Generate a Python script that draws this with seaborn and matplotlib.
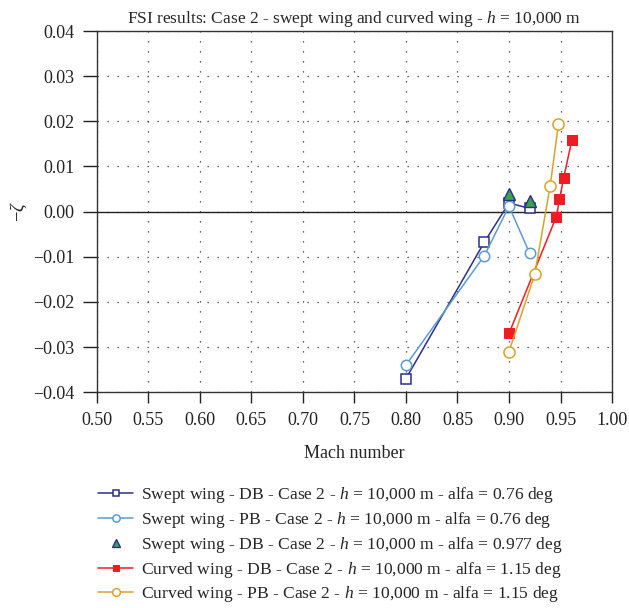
import numpy as np
import pandas as pd
import matplotlib
matplotlib.use("Agg")
import matplotlib.pyplot as plt
import seaborn as sns

# Mach number / -zeta values for each configuration
swept_db_mach = [0.80, 0.876, 0.90, 0.92]
swept_db_zeta = [-0.037, -0.0068, 0.0019, 0.0007]

swept_pb_mach = [0.80, 0.876, 0.90, 0.92]
swept_pb_zeta = [-0.034, -0.0098, 0.0012, -0.0092]

swept_db2_mach = [0.90, 0.92]
swept_db2_zeta = [0.0039, 0.0024]

curved_db_mach = [0.90, 0.946, 0.949, 0.953, 0.961]
curved_db_zeta = [-0.027, -0.0011, 0.0027, 0.0074, 0.0158]

curved_pb_mach = [0.90, 0.925, 0.94, 0.948]
curved_pb_zeta = [-0.031, -0.0139, 0.0057, 0.0194]

labels = [
    r"Swept wing - DB - Case 2 - $h$ = 10,000 m - alfa = 0.76 deg",
    r"Swept wing - PB - Case 2 - $h$ = 10,000 m - alfa = 0.76 deg",
    r"Swept wing - DB - Case 2 - $h$ = 10,000 m - alfa = 0.977 deg",
    r"Curved wing - DB - Case 2 - $h$ = 10,000 m - alfa = 1.15 deg",
    r"Curved wing - PB - Case 2 - $h$ = 10,000 m - alfa = 1.15 deg",
]
x_ticks = [0.50, 0.55, 0.60, 0.65, 0.70, 0.75, 0.80, 0.85, 0.90, 0.95, 1.00]
y_ticks = [-0.04, -0.03, -0.02, -0.01, 0.00, 0.01, 0.02, 0.03, 0.04]

sns.set_style("ticks")
plt.rcParams["font.family"] = ["Liberation Serif", "DejaVu Serif"]
plt.rcParams["mathtext.fontset"] = "custom"
plt.rcParams["mathtext.it"] = "Liberation Serif:italic"
plt.rcParams["mathtext.rm"] = "Liberation Serif"

fig = plt.figure(figsize=(6.29, 6.08), dpi=100)
ax = fig.add_axes([0.154, 0.355, 0.819, 0.594])

navy = "#2b2f8c"
lblue = "#5b9bd5"
green = "#3aa346"
red = "#ee1c25"
gold = "#d9a228"

def df(x, y):
    return pd.DataFrame({"mach": x, "zeta": y})

sns.lineplot(data=df(swept_db_mach, swept_db_zeta), x="mach", y="zeta", ax=ax,
             sort=False, estimator=None, color=navy, lw=1.1, marker="s",
             markersize=7, markerfacecolor="white", markeredgecolor=navy,
             markeredgewidth=1.1, label=labels[0])
sns.lineplot(data=df(swept_pb_mach, swept_pb_zeta), x="mach", y="zeta", ax=ax,
             sort=False, estimator=None, color=lblue, lw=1.1, marker="o",
             markersize=7.5, markerfacecolor="white", markeredgecolor=lblue,
             markeredgewidth=1.1, label=labels[1])
sns.lineplot(data=df(swept_db2_mach, swept_db2_zeta), x="mach", y="zeta", ax=ax,
             sort=False, estimator=None, lw=0, linestyle="none", marker="^",
             markersize=8, markerfacecolor=green, markeredgecolor=navy,
             markeredgewidth=1.0, label=labels[2])
sns.lineplot(data=df(curved_db_mach, curved_db_zeta), x="mach", y="zeta", ax=ax,
             sort=False, estimator=None, color=red, lw=1.1, marker="s",
             markersize=7, markerfacecolor=red, markeredgecolor=red,
             label=labels[3])
sns.lineplot(data=df(curved_pb_mach, curved_pb_zeta), x="mach", y="zeta", ax=ax,
             sort=False, estimator=None, color=gold, lw=1.1, marker="o",
             markersize=8, markerfacecolor="white", markeredgecolor=gold,
             markeredgewidth=1.1, label=labels[4])

ax.axhline(0, color="#222222", lw=1.0, zorder=1)

ax.set_xlim(0.50, 1.00)
ax.set_ylim(-0.04, 0.04)
ax.set_xticks(x_ticks)
ax.set_xticklabels([f"{v:.2f}" for v in x_ticks])
ax.set_yticks(y_ticks)
ax.set_yticklabels([f"{v:.2f}".replace("-", "\u2212") for v in y_ticks])
ax.grid(True, linestyle=(0, (1, 7)), color="#333333", lw=0.9)
ax.tick_params(axis="x", direction="out", length=8, width=1, pad=6,
               labelsize=13, colors="#222222")
ax.tick_params(axis="y", direction="out", length=10, width=1, pad=6,
               labelsize=13, colors="#222222")
for s in ax.spines.values():
    s.set_color("#333333")
    s.set_linewidth(1.0)

ax.set_xlabel("Mach number", fontsize=13, labelpad=12)
ax.set_ylabel(r"$-\zeta$", fontsize=13.5, labelpad=3)
ax.set_title(r"FSI results: Case 2 - swept wing and curved wing - $h$ = 10,000 m",
             fontsize=12.5, pad=6)

handles, labs = ax.get_legend_handles_labels()
ax.get_legend().remove()
fig.legend(handles, labs, loc="upper left", bbox_to_anchor=(0.145, 0.213),
           frameon=False, fontsize=12.6, handlelength=2.0, handletextpad=0.45,
           labelspacing=0.27, borderaxespad=0, markerscale=0.7)

fig.savefig("out.png", dpi=100)
